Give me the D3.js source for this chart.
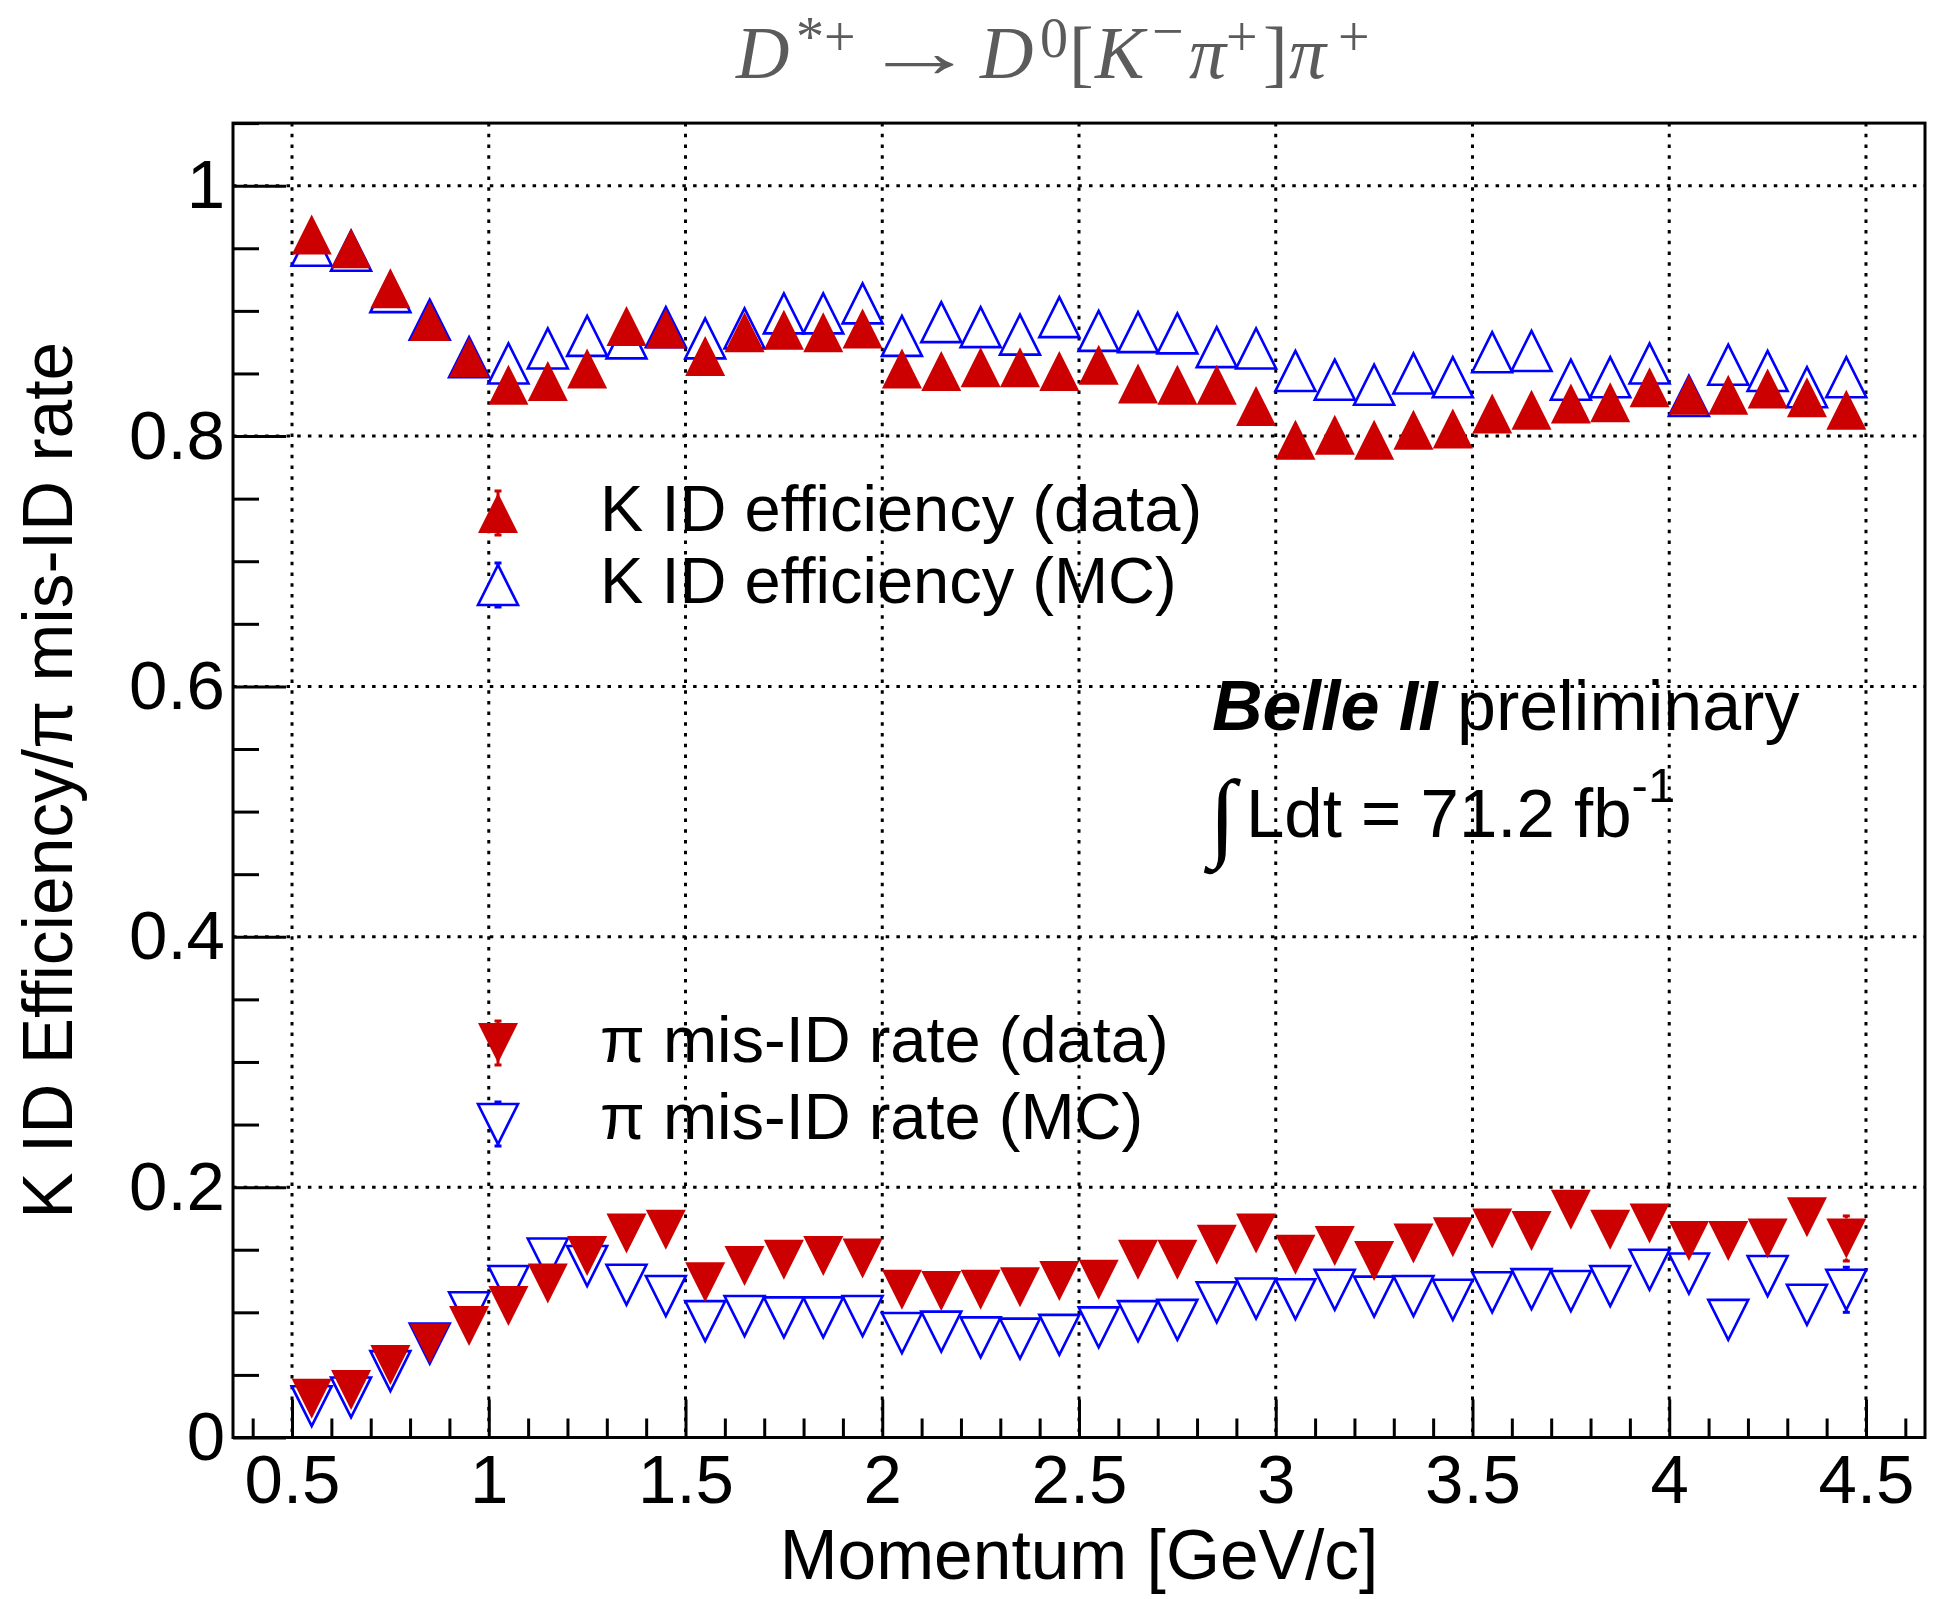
<!DOCTYPE html>
<html><head><meta charset="utf-8">
<script src="https://cdn.jsdelivr.net/npm/d3@7"></script>
<style>body{margin:0;background:#fff} svg{display:block}</style>
</head><body>
<svg id="c" width="1947" height="1599"></svg>
<script>
// ---- data (bin centres, GeV/c) ----
const momentum = [0.55,0.65,0.75,0.85,0.95,1.05,1.15,1.25,1.35,1.45,1.55,1.65,1.75,1.85,1.95,2.05,2.15,2.25,2.35,2.45,
                  2.55,2.65,2.75,2.85,2.95,3.05,3.15,3.25,3.35,3.45,3.55,3.65,3.75,3.85,3.95,4.05,4.15,4.25,4.35,4.45];
const kEffData = [0.961,0.950,0.918,0.892,0.863,0.841,0.844,0.854,0.888,0.886,0.864,0.883,0.885,0.883,0.886,0.854,0.852,0.855,0.855,0.852,
                  0.857,0.842,0.841,0.841,0.824,0.797,0.801,0.797,0.805,0.806,0.818,0.821,0.826,0.827,0.839,0.833,0.833,0.838,0.831,0.821];
const kEffMC   = [0.952,0.948,0.915,0.893,0.863,0.858,0.870,0.880,0.878,0.887,0.878,0.886,0.898,0.898,0.906,0.880,0.891,0.887,0.881,0.895,
                  0.884,0.883,0.882,0.871,0.870,0.852,0.845,0.841,0.850,0.847,0.867,0.868,0.845,0.847,0.858,0.832,0.857,0.852,0.839,0.847];
const piMisData= [0.031,0.038,0.058,0.075,0.089,0.105,0.123,0.145,0.163,0.166,0.124,0.137,0.142,0.145,0.143,0.118,0.117,0.118,0.120,0.125,
                  0.126,0.142,0.142,0.154,0.163,0.146,0.153,0.141,0.155,0.160,0.167,0.165,0.182,0.166,0.171,0.157,0.157,0.159,0.176,0.159];
const piMisMC  = [0.025,0.032,0.053,0.075,0.100,0.121,0.143,0.137,0.122,0.113,0.093,0.097,0.096,0.096,0.097,0.0835,0.0846,0.080,0.079,0.082,
                  0.088,0.093,0.094,0.108,0.111,0.1105,0.118,0.1125,0.113,0.110,0.116,0.1185,0.117,0.121,0.134,0.131,0.094,0.129,0.106,0.118];
// statistical errors (mostly hidden inside markers)
const kEffDataErr = [0.003,0.003,0.003,0.003,0.003,0.003,0.003,0.003,0.003,0.003,0.003,0.003,0.003,0.003,0.003,0.003,0.003,0.003,0.003,0.003,
                     0.004,0.004,0.004,0.004,0.004,0.004,0.004,0.004,0.005,0.005,0.005,0.005,0.005,0.006,0.006,0.006,0.007,0.007,0.008,0.009];
const kEffMCErr   = [0.002,0.002,0.002,0.002,0.002,0.002,0.002,0.002,0.002,0.002,0.002,0.002,0.002,0.002,0.002,0.002,0.002,0.002,0.002,0.002,
                     0.003,0.003,0.003,0.003,0.003,0.003,0.003,0.003,0.003,0.003,0.004,0.004,0.004,0.004,0.004,0.005,0.005,0.005,0.006,0.006];
const piMisDataErr= [0.002,0.002,0.002,0.002,0.002,0.002,0.002,0.003,0.003,0.003,0.003,0.003,0.003,0.003,0.004,0.004,0.004,0.004,0.005,0.005,
                     0.005,0.005,0.006,0.006,0.006,0.007,0.007,0.007,0.008,0.008,0.009,0.009,0.010,0.010,0.011,0.012,0.013,0.014,0.0165,0.018];
const piMisMCErr  = [0.002,0.002,0.002,0.002,0.002,0.002,0.002,0.002,0.002,0.002,0.003,0.003,0.003,0.003,0.003,0.003,0.003,0.003,0.003,0.004,
                     0.004,0.004,0.004,0.004,0.005,0.005,0.005,0.005,0.006,0.006,0.006,0.007,0.007,0.008,0.008,0.009,0.010,0.011,0.012,0.018];

const xTickValues = [0.5,1,1.5,2,2.5,3,3.5,4,4.5];
const xTickLabels = ["0.5","1","1.5","2","2.5","3","3.5","4","4.5"];
const yTickValues = [0,0.2,0.4,0.6,0.8,1];
const yTickLabels = ["0","0.2","0.4","0.6","0.8","1"];
const xMinor = [0.4,0.6,0.7,0.8,0.9,1.1,1.2,1.3,1.4,1.6,1.7,1.8,1.9,2.1,2.2,2.3,2.4,2.6,2.7,2.8,2.9,3.1,3.2,3.3,3.4,3.6,3.7,3.8,3.9,4.1,4.2,4.3,4.4,4.6];
const yMinor = [0.05,0.1,0.15,0.25,0.3,0.35,0.45,0.5,0.55,0.65,0.7,0.75,0.85,0.9,0.95,1.05];

const RED = "#cc0000", BLUE = "#0000ff";
const SANS = '"Liberation Sans", Arial, Helvetica, sans-serif';
const SERIF = '"Liberation Serif", "Times New Roman", serif';

const svg = d3.select('#c');
svg.append('rect').attr('width',1947).attr('height',1599).attr('fill','#fff');

const x = d3.scaleLinear().domain([0.35,4.65]).range([233,1925]);
const y = d3.scaleLinear().domain([0,1.05]).range([1437.5,123.1]);
const [X0,X1] = x.range(), [Y0,Y1] = y.range();

// ---- grid ----
const grid = svg.append('g').attr('stroke','#000').attr('stroke-width',3).attr('stroke-dasharray','3.5,7.2');
grid.selectAll('.gx').data(xTickValues).join('line')
  .attr('x1',d=>x(d)).attr('x2',d=>x(d)).attr('y1',Y1).attr('y2',Y0);
grid.selectAll('.gy').data(yTickValues.filter(v=>v>0)).join('line')
  .attr('y1',d=>y(d)).attr('y2',d=>y(d)).attr('x1',X0).attr('x2',X1);

// ---- axes ----
function styleAxis(g){ g.select('.domain').remove(); g.selectAll('line').attr('stroke','#000').attr('stroke-width',3);
  g.selectAll('text').attr('font-family',SANS).attr('fill','#000'); }
svg.append('g').attr('transform',`translate(0,${Y0})`)
  .call(d3.axisBottom(x).tickValues(xTickValues).tickSize(-38).tickPadding(17).tickFormat((d,i)=>xTickLabels[i]))
  .call(styleAxis).call(g=>g.selectAll('text').attr('font-size',69));
svg.append('g').attr('transform',`translate(0,${Y0})`)
  .call(d3.axisBottom(x).tickValues(xMinor).tickSize(-19).tickFormat(''))
  .call(styleAxis);
svg.append('g').attr('transform',`translate(${X0},0)`)
  .call(d3.axisLeft(y).tickValues(yTickValues).tickSize(-53).tickPadding(8).tickFormat((d,i)=>yTickLabels[i]))
  .call(styleAxis).call(g=>g.selectAll('text').attr('font-size',69));
svg.append('g').attr('transform',`translate(${X0},0)`)
  .call(d3.axisLeft(y).tickValues(yMinor).tickSize(-26).tickFormat(''))
  .call(styleAxis);

// frame
svg.append('rect').attr('x',X0).attr('y',Y1).attr('width',X1-X0).attr('height',Y0-Y1)
  .attr('fill','none').attr('stroke','#000').attr('stroke-width',3);

// ---- markers ----
const S = 20;
const triUp = `M${-S},${S}L${S},${S}L0,${-S}Z`;
const triDown = `M${-S},${-S}L${S},${-S}L0,${S}Z`;
const pxPerUnit = y(0)-y(1);

function errorBars(g, vals, errs, color){
  const d = momentum.map((m,i)=>({m, v:vals[i], e:errs[i]})).filter(o=>o.e*pxPerUnit > S+1);
  const eg = g.append('g').attr('stroke',color).attr('stroke-width',3);
  d.forEach(o=>{
    const cx=x(o.m), cy=y(o.v), top=y(o.v+o.e), bot=y(o.v-o.e);
    eg.append('line').attr('x1',cx).attr('x2',cx).attr('y1',top).attr('y2',cy-S);
    eg.append('line').attr('x1',cx).attr('x2',cx).attr('y1',cy+S).attr('y2',bot);
    eg.append('line').attr('x1',cx-3.5).attr('x2',cx+3.5).attr('y1',top).attr('y2',top);
    eg.append('line').attr('x1',cx-3.5).attr('x2',cx+3.5).attr('y1',bot).attr('y2',bot);
  });
}
function series(vals, errs, path, filled, color){
  const g = svg.append('g');
  errorBars(g, vals, errs, color);
  g.selectAll('path').data(momentum.map((m,i)=>[m,vals[i]])).join('path')
    .attr('d',path).attr('transform',d=>`translate(${x(d[0])},${y(d[1])})`)
    .attr('fill',filled?color:'none').attr('stroke',filled?'none':color).attr('stroke-width',filled?0:2.6)
    .attr('stroke-linejoin','miter');
}
series(kEffMC, kEffMCErr, triUp, false, BLUE);
series(piMisMC, piMisMCErr, triDown, false, BLUE);
series(kEffData, kEffDataErr, triUp, true, RED);
series(piMisData, piMisDataErr, triDown, true, RED);

// ---- legends ----
function legendEntry(cx, cy, path, filled, color, label, tx, ty){
  const g = svg.append('g');
  g.append('line').attr('x1',cx).attr('x2',cx).attr('y1',cy-22).attr('y2',cy+22).attr('stroke',color).attr('stroke-width',3);
  [cy-22, cy+22].forEach(yy=>g.append('line').attr('x1',cx-3.5).attr('x2',cx+3.5).attr('y1',yy).attr('y2',yy).attr('stroke',color).attr('stroke-width',3));
  if(!filled) g.append('path').attr('d',path).attr('transform',`translate(${cx},${cy})`).attr('fill','#fff').attr('stroke','none');
  g.append('path').attr('d',path).attr('transform',`translate(${cx},${cy})`)
    .attr('fill',filled?color:'none').attr('stroke',filled?'none':color).attr('stroke-width',2.6);
  g.append('text').attr('x',tx).attr('y',ty).attr('font-family',SANS).attr('font-size',65).attr('fill','#000').text(label);
}
legendEntry(498,513,triUp,true,RED,'K ID efficiency (data)',600,531);
legendEntry(498,585,triUp,false,BLUE,'K ID efficiency (MC)',600,603);
legendEntry(498,1043,triDown,true,RED,'π mis-ID rate (data)',600,1062);
legendEntry(498,1124,triDown,false,BLUE,'π mis-ID rate (MC)',600,1139);

// ---- Belle II label ----
const belle = svg.append('text').attr('x',1212).attr('y',730).attr('font-family',SANS).attr('font-size',70).attr('fill','#000');
belle.append('tspan').attr('font-weight','bold').attr('font-style','italic').text('Belle II');
belle.append('tspan').text(' preliminary');
svg.append('text').attr('x',1209).attr('y',848).attr('font-family',SERIF).attr('font-size',98).attr('fill','#000').text('∫');
const lum = svg.append('text').attr('x',1246).attr('y',837).attr('font-family',SANS).attr('font-size',69).attr('fill','#000');
lum.append('tspan').text('Ldt = 71.2 fb');
lum.append('tspan').attr('dy',-35).attr('font-size',49).text('-1');

// ---- title ----
const title = svg.append('text').attr('font-family',SERIF).attr('fill','#5b5b5b');
const tparts = [
  ['D',736,78,74,true],['*+',796,56,56,false],
  ['D',980,78,74,true],['0',1040,57,56,false],['[',1069,78,74,false],['K',1095,78,74,true],
  ['−',1152,50,56,false],['π',1189,78,74,true],['+',1226,56,56,false],[']',1263,78,74,false],
  ['π',1289,78,74,true],['+',1338,56,56,false]];
tparts.forEach(p=>title.append('tspan').attr('x',p[1]).attr('y',p[2]).attr('font-size',p[3])
  .attr('font-style',p[4]?'italic':'normal').text(p[0]));
svg.append('text').attr('transform','translate(862,77) scale(1.55,1)').attr('font-family',SERIF)
  .attr('font-size',74).attr('fill','#5b5b5b').text('→');

// ---- axis titles ----
svg.append('text').attr('x',(X0+X1)/2).attr('y',1579).attr('text-anchor','middle')
  .attr('font-family',SANS).attr('font-size',69.5).attr('fill','#000').text('Momentum [GeV/c]');
svg.append('text').attr('transform',`translate(72,${(Y0+Y1)/2}) rotate(-90)`).attr('text-anchor','middle')
  .attr('font-family',SANS).attr('font-size',69.5).attr('fill','#000').text('K ID Efficiency/π mis-ID rate');
</script>
</body></html>
